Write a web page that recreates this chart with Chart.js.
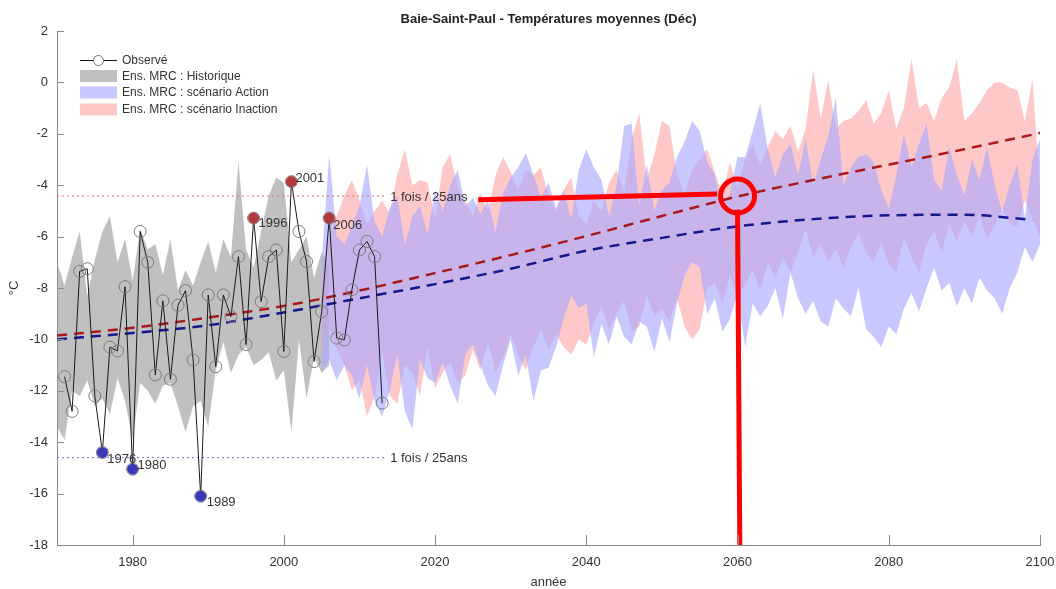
<!DOCTYPE html>
<html><head><meta charset="utf-8">
<script src="https://cdn.jsdelivr.net/npm/chart.js@4.4.1/dist/chart.umd.min.js"></script>
<style>html,body{margin:0;padding:0;background:#fff;}#wrap{width:1056px;height:589px;}</style>
</head><body><div id="wrap"><canvas id="c" width="1056" height="589"></canvas></div>
<script>
// ---------------- DATA ----------------
const xTickValues = [1980, 2000, 2020, 2040, 2060, 2080, 2100];
const yTickValues = [-18, -16, -14, -12, -10, -8, -6, -4, -2, 0, 2];

const obsStartYear = 1971;
const obsValues = [
  -11.45, -12.8, -7.35, -7.25, -12.2, -14.4, -10.3, -10.45, -7.95, -15.05,
  -5.8, -7.0, -11.38, -8.5, -11.55, -8.67, -8.1, -10.8, -16.1, -8.27,
  -11.06, -8.27, -9.11, -6.78, -10.2, -5.28, -8.53, -6.78, -6.52, -10.47,
  -3.86, -5.8, -6.97, -10.86, -8.92, -5.28, -9.95, -10.02, -8.07, -6.52,
  -6.19, -6.78, -12.48
];
const extremeWarmYears = [1996, 2001, 2006];
const extremeColdYears = [1976, 1980, 1989];

const histStartYear = 1970;
const histMax = [
  -7.0, -7.9, -6.8, -5.8, -8.3, -6.9, -5.8, -5.2, -7.0, -6.1,
  -7.7, -5.7, -6.5, -6.3, -7.5, -6.1, -8.1, -7.3, -7.9, -7.0,
  -6.2, -7.4, -6.1, -6.8, -3.1, -6.5, -7.2, -5.8, -4.4, -3.7,
  -3.9, -7.0, -6.5, -6.0, -7.6, -6.6, -7.2
];
const histMin = [
  -13.4, -13.9, -12.0, -12.2, -11.6, -12.6, -12.3, -12.9, -11.5, -12.4,
  -13.9, -11.7, -12.0, -12.5, -11.8, -11.7, -12.6, -13.6, -12.6, -12.4,
  -13.4, -11.2, -10.1, -11.3, -10.6, -10.3, -11.0, -10.8, -10.5, -11.6,
  -11.2, -13.6, -10.0, -12.3, -10.7, -11.3, -11.0
];

const scenStartYear = 2005;
const actionMax = [
  -7.0, -2.8, -6.0, -6.3, -5.6,
  -4.8, -3.2, -5.4, -6.0, -4.9, -4.4, -6.3, -5.2, -4.8, -5.9,
  -4.2, -5.0, -4.0, -3.4, -4.8, -4.5, -5.1, -4.6, -5.8, -4.3,
  -3.7, -3.3, -2.75, -3.6, -4.5, -3.9, -4.9, -4.2, -5.3, -3.4,
  -2.6, -3.3, -3.8, -5.2, -4.0, -1.7, -1.6, -4.8, -3.2, -5.0,
  -4.2, -3.9, -2.9, -2.3, -1.5, -1.9, -3.1, -3.6, -4.9, -4.3,
  -2.9, -2.9, -1.9, -0.8, -2.6, -3.7, -2.8, -2.4, -3.6, -2.2,
  -4.0, -3.0, -2.1, -0.6, -4.0, -3.3, -2.9, -2.8, -3.1, -4.2,
  -4.9, -3.6, -2.0, -3.3, -2.4, -1.6, -3.8, -4.2, -2.5, -3.6,
  -4.4, -3.0, -3.8, -2.5, -4.0, -5.0, -4.0, -3.2, -5.3, -3.0, -2.2
];
const actionMin = [
  -11.3, -10.8, -11.6, -11.0, -11.4,
  -12.3, -11.0, -12.4, -13.0, -12.0, -10.6, -12.8, -13.5, -10.8, -11.5,
  -11.7, -10.9, -11.8, -12.5, -10.6, -10.2, -11.0, -11.8, -12.2, -11.0,
  -10.0, -11.4, -10.6, -12.4, -11.2, -11.1, -10.3, -9.2, -8.3, -8.8,
  -8.6, -10.7, -9.4, -10.2, -9.1, -9.9, -10.2, -9.3, -9.5, -10.5,
  -9.2, -10.1, -8.6, -7.5, -7.0, -7.2, -9.0, -8.4, -9.7, -9.2,
  -8.2, -10.3, -8.6, -9.1, -8.7, -8.0, -9.2, -7.4, -8.4, -9.0,
  -8.5, -9.3, -9.5, -8.4, -8.8, -9.1, -8.0, -9.6, -9.9, -10.3,
  -9.5, -9.8, -8.8, -8.2, -8.9, -8.0, -7.2, -8.1, -7.8, -8.7,
  -8.0, -8.6, -7.6, -8.1, -8.4, -9.0, -8.0, -7.4, -6.4, -7.0, -6.3
];
const inactionMax = [
  -7.5, -6.0, -5.2, -4.4, -3.8,
  -4.6, -5.5, -5.0, -4.6, -5.1, -3.6, -2.6, -4.0, -3.8, -3.9,
  -5.3, -3.3, -2.8, -4.1, -4.6, -5.2, -4.3, -5.0, -3.6, -2.9,
  -3.5, -4.2, -3.4, -3.6, -3.3, -4.4, -5.0, -4.2, -3.7, -5.2,
  -5.5, -4.6, -5.0, -3.9, -3.4, -4.3, -2.2, -1.2, -3.8, -2.8,
  -1.5, -1.7, -3.6, -4.3, -3.4, -3.0, -2.6, -3.5, -4.4, -3.1,
  -4.1, -3.0, -2.4, -3.2, -2.5, -1.9, -2.2, -1.7, -2.7, -1.8,
  0.5, -1.4, 0.1, -1.8, -1.5, -1.4, -1.1, -0.7, -1.6, -1.2,
  -0.3, -1.8, -1.0, 0.9, -1.0, -0.8, -1.5, -0.6, -0.2, 0.9,
  -1.5, -1.2, -0.8, -0.3, 0.0, 0.0, -0.2, -0.3, -1.5, 0.1, -4.2
];
const inactionMin = [
  -10.5, -9.5, -10.4, -11.0, -12.0,
  -11.6, -13.0, -12.2, -10.5, -12.2, -12.5, -11.0, -11.3, -12.2, -10.3,
  -11.9, -11.3, -10.9, -11.7, -11.4, -10.4, -11.2, -10.1, -11.3, -10.7,
  -9.8, -10.6, -11.2, -10.3, -9.6, -10.4, -9.8, -10.3, -10.6, -10.0,
  -10.2, -9.4, -8.7, -9.6, -9.0, -8.5, -9.7, -9.5, -8.3, -9.1,
  -8.8, -9.3, -8.4, -9.5, -10.0, -9.6, -8.0, -7.8, -8.6, -7.5,
  -8.3, -7.9, -7.3, -8.1, -7.0, -7.6, -6.8, -7.4, -6.6, -5.7,
  -6.8, -6.3, -7.0, -6.5, -7.2, -6.4, -5.9, -6.6, -7.0, -6.2,
  -7.1, -7.4, -6.0, -6.8, -7.4, -6.3, -5.8, -6.6, -5.5, -6.2,
  -5.4, -6.0, -5.2, -6.1, -5.6, -4.9, -5.5, -5.6, -4.6, -5.3, -6.0
];

const inactionTrendYears = [1970, 1980, 1990, 2000, 2010, 2020, 2030, 2040, 2050, 2060, 2070, 2080, 2090, 2100];
const inactionTrend = [-9.85, -9.55, -9.15, -8.7, -8.1, -7.42, -6.72, -5.98, -5.2, -4.44, -3.8, -3.2, -2.6, -1.97];
const actionTrendYears = [1970, 1980, 1990, 2000, 2010, 2020, 2030, 2040, 2050, 2060, 2070, 2080, 2090, 2099];
const actionTrend = [-10.0, -9.75, -9.45, -8.95, -8.4, -7.85, -7.25, -6.55, -6.05, -5.6, -5.32, -5.17, -5.15, -5.35];

const returnLineYears = [1970, 2013.4];
const rareWarmLine = [-4.42, -4.42];
const rareColdLine = [-14.6, -14.6];
const returnLabel = "1 fois / 25ans";

const highlightLineYears = [2025.7, 2057.3];
const highlightLineValues = [-4.57, -4.34];
const highlightCircleYear = [2060.0];
const highlightCircleValue = [-4.42];
const highlightDropYears = [2060.0, 2060.3];
const highlightDropValues = [-4.95, -18];

const titleText = "Baie-Saint-Paul - Températures moyennes (Déc)";
const xTitle = "année";
const yTitle = "°C";
const legendLabels = ["Observé", "Ens. MRC : Historique", "Ens. MRC : scénario Action", "Ens. MRC : scénario Inaction"];

// ---------------- HELPERS ----------------
const FF = "'Liberation Sans', Arial, Helvetica, sans-serif";
function yearsFrom(start, n) { const r = []; for (let i = 0; i < n; i++) r.push(start + i); return r; }
function pts(xs, ys) { return xs.map((x, i) => ({ x: x, y: ys[i] })); }
const obsYears = yearsFrom(obsStartYear, obsValues.length);
const histYears = yearsFrom(histStartYear, histMax.length);
const scenYears = yearsFrom(scenStartYear, actionMax.length);
function obsAt(y) { return obsValues[obsYears.indexOf(y)]; }

const COL = {
  gray: 'rgba(150,150,150,0.6)', grayLeg: 'rgb(192,192,192)',
  blue: 'rgba(169,169,255,0.64)', blueLeg: 'rgb(200,200,255)',
  red: 'rgba(255,169,169,0.64)', redLeg: 'rgb(255,200,200)',
  trendRed: '#a8181c', trendBlue: '#16168f',
  warm: '#b23a3a', cold: '#3a3ab8', text: '#333333', axis: '#8a8a8a'
};
const labelOffsets = { 1976: [5, 7], 1980: [5, -4], 1989: [6, 6], 1996: [5, 5], 2001: [4, -3], 2006: [4, 7] };

function band(data, color, fill) {
  return { data: data, fill: fill, backgroundColor: color, borderColor: 'rgba(0,0,0,0)', borderWidth: 0,
    pointRadius: 0, tension: 0 };
}

const decor = {
  id: 'decor',
  afterDatasetsDraw(chart) {
    const ctx = chart.ctx, xs = chart.scales.x, ys = chart.scales.y;
    ctx.save();
    ctx.fillStyle = COL.text;
    ctx.font = "13px " + FF;
    ctx.textAlign = 'left';
    ctx.textBaseline = 'middle';
    extremeWarmYears.concat(extremeColdYears).forEach(yr => {
      const o = labelOffsets[yr] || [5, 5];
      ctx.fillText(String(yr), xs.getPixelForValue(yr) + o[0], ys.getPixelForValue(obsAt(yr)) + o[1]);
    });
    const lx = xs.getPixelForValue(returnLineYears[1]) + 5;
    ctx.fillText(returnLabel, lx, ys.getPixelForValue(rareWarmLine[1]) + 1);
    ctx.fillText(returnLabel, lx, ys.getPixelForValue(rareColdLine[1]) + 1);
    ctx.restore();
  },
  afterDraw(chart) {
    const ctx = chart.ctx, xs = chart.scales.x, ys = chart.scales.y, a = chart.chartArea;
    ctx.save();
    ctx.strokeStyle = COL.axis; ctx.lineWidth = 1;
    ctx.beginPath();
    yTickValues.forEach(v => { const p = Math.round(ys.getPixelForValue(v)) + 0.5; ctx.moveTo(a.left, p); ctx.lineTo(a.left + 7, p); });
    xTickValues.forEach(v => { const p = Math.round(xs.getPixelForValue(v)) + 0.5; ctx.moveTo(p, a.bottom); ctx.lineTo(p, a.bottom - 10); });
    ctx.stroke();
    // legend
    const lx0 = 80, lx1 = 117, tx = 122;
    const rows = [60, 76, 92.5, 109.5];
    ctx.strokeStyle = '#1a1a1a'; ctx.lineWidth = 1;
    ctx.beginPath(); ctx.moveTo(lx0, rows[0] + 0.5); ctx.lineTo(lx1, rows[0] + 0.5); ctx.stroke();
    ctx.fillStyle = '#fff'; ctx.strokeStyle = '#777';
    ctx.beginPath(); ctx.arc((lx0 + lx1) / 2, rows[0] + 0.5, 5, 0, Math.PI * 2); ctx.fill(); ctx.stroke();
    const fills = [COL.grayLeg, COL.blueLeg, COL.redLeg];
    fills.forEach((c, i) => { ctx.fillStyle = c; ctx.fillRect(lx0, rows[i + 1] - 6, lx1 - lx0, 12); });
    ctx.fillStyle = COL.text; ctx.font = "12px " + FF; ctx.textAlign = 'left'; ctx.textBaseline = 'middle';
    legendLabels.forEach((t, i) => ctx.fillText(t, tx, rows[i] + 0.5));
    ctx.restore();
  }
};

const datasets = [
  { data: pts(highlightCircleYear, highlightCircleValue), showLine: false, pointRadius: 17, pointBorderWidth: 5,
    pointBorderColor: '#ff0000', pointBackgroundColor: 'rgba(0,0,0,0)', clip: false },
  { data: pts(highlightLineYears, highlightLineValues), borderColor: '#ff0000', borderWidth: 5, pointRadius: 0, fill: false },
  { data: pts(highlightDropYears, highlightDropValues), borderColor: '#ff0000', borderWidth: 5, pointRadius: 0, fill: false },
  { data: pts(extremeWarmYears, extremeWarmYears.map(obsAt)), showLine: false, pointRadius: 5.5, pointBorderWidth: 0,
    pointBackgroundColor: COL.warm, pointBorderColor: COL.warm },
  { data: pts(extremeColdYears, extremeColdYears.map(obsAt)), showLine: false, pointRadius: 5.5, pointBorderWidth: 0,
    pointBackgroundColor: COL.cold, pointBorderColor: COL.cold },
  { data: pts(obsYears, obsValues), borderColor: '#1a1a1a', borderWidth: 1, pointRadius: 6, pointBorderWidth: 1,
    pointBorderColor: '#7a7a7a', pointBackgroundColor: 'rgba(0,0,0,0)', fill: false, tension: 0 },
  { data: pts(inactionTrendYears, inactionTrend), borderColor: COL.trendRed, borderWidth: 2.5, borderDash: [10, 7],
    pointRadius: 0, fill: false, cubicInterpolationMode: 'monotone' },
  { data: pts(actionTrendYears, actionTrend), borderColor: COL.trendBlue, borderWidth: 2.5, borderDash: [10, 7],
    pointRadius: 0, fill: false, cubicInterpolationMode: 'monotone' },
  { data: pts(returnLineYears, rareWarmLine), borderColor: '#e07070', borderWidth: 1, borderDash: [2, 3], pointRadius: 0, fill: false },
  { data: pts(returnLineYears, rareColdLine), borderColor: '#7070e0', borderWidth: 1, borderDash: [2, 3], pointRadius: 0, fill: false },
  band(pts(scenYears, actionMax), COL.blue, '+1'),
  band(pts(scenYears, actionMin), COL.blue, false),
  band(pts(scenYears, inactionMax), COL.red, '+1'),
  band(pts(scenYears, inactionMin), COL.red, false),
  band(pts(histYears, histMax), COL.gray, '+1'),
  band(pts(histYears, histMin), COL.gray, false)
];

Chart.defaults.font.family = FF;
Chart.defaults.color = COL.text;

new Chart(document.getElementById('c'), {
  type: 'line',
  data: { datasets: datasets },
  options: {
    responsive: false,
    animation: false,
    events: [],
    layout: { autoPadding: false, padding: { left: 0, right: 0, top: 0, bottom: 0 } },
    plugins: {
      legend: { display: false },
      tooltip: { enabled: false },
      title: { display: true, fullSize: false, text: titleText, color: '#222', font: { size: 13, weight: 'bold', family: FF },
        padding: { top: 12, bottom: 3.4 } }
    },
    scales: {
      x: {
        type: 'linear', min: 1970, max: 2100,
        afterBuildTicks: s => { s.ticks = xTickValues.map(v => ({ value: v })); },
        afterFit: s => { s.height = 44; s.paddingLeft = 0; s.paddingRight = 16; },
        grid: { display: false, drawTicks: true, tickLength: 8.5 },
        border: { display: true, color: COL.axis, width: 1 },
        ticks: { padding: 1.5, color: COL.text, font: { size: 13 }, maxRotation: 0, callback: v => String(v) },
        title: { display: true, text: xTitle, color: COL.text, font: { size: 13, lineHeight: 1 }, padding: { top: 0, bottom: 0 } }
      },
      y: {
        type: 'linear', min: -18, max: 2,
        afterBuildTicks: s => { s.ticks = yTickValues.map(v => ({ value: v })); },
        afterFit: s => { s.width = 57; },
        grid: { display: false, drawTicks: false },
        border: { display: true, color: COL.axis, width: 1 },
        ticks: { padding: 9, color: COL.text, font: { size: 13 }, callback: v => String(v) },
        title: { display: true, text: yTitle, color: COL.text, font: { size: 13 }, padding: { top: 7, bottom: 0 } }
      }
    }
  },
  plugins: [decor]
});
</script>
</body></html>
